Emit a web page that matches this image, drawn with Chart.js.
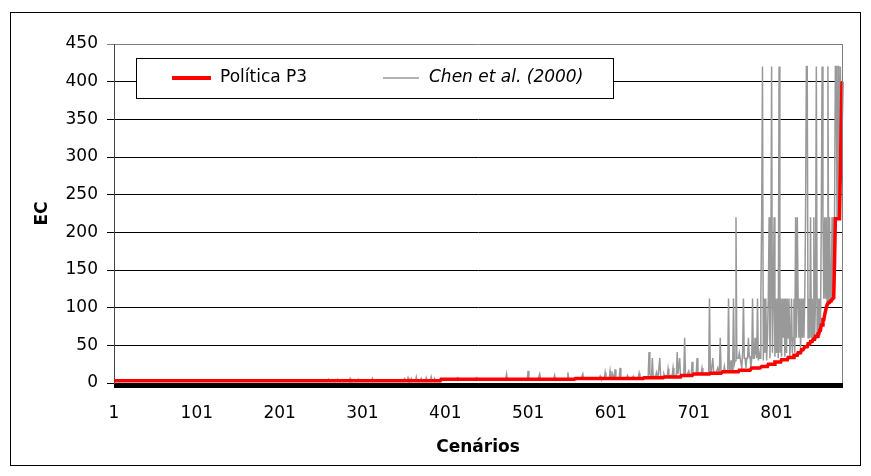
<!DOCTYPE html>
<html>
<head>
<meta charset="utf-8">
<script src="https://cdn.jsdelivr.net/npm/chart.js@4.4.1/dist/chart.umd.min.js"></script>
<style>
    html, body {
        margin: 0;
        padding: 0;
        background: #fff;
        overflow: hidden;
    }
    .chart-box {
        position: relative;
        width: 871px;
        height: 476px;
    }
</style>
</head>
<body>
<div class="chart-box">
    <canvas id="ecChart"></canvas>
</div>
<script>

const scenarioCount = 880;

const tickLabels = ['1', '101', '201', '301', '401', '501', '601', '701', '801'];

const yTicks = [0, 50, 100, 150, 200, 250, 300, 350, 400, 450];

// [value, repeat] or a single value
const p3Runs = [
    [3, 395], [5, 162], [6, 83], [7, 25], [8, 20], [10, 15], [12, 20], [13, 15],
    [15, 20], [17, 15], [20, 12], [22, 8], [25, 8], [28, 8], [31, 8], [34, 7],
    [37, 5], [40, 4], [44, 4], [48, 4], [52, 3], [55, 3], [58, 3], [62, 3],
    [65, 2], [70, 2], [77, 2], [84, 2], 90, 95, 100, [104, 2], [107, 2],
    [109, 2], [111, 2], 113, 160, [218, 6], 280, 340, 400
];

const chenRuns = [
    [3, 259], 5, [3, 10], 5, [3, 14], 6, [3, 9], 5, [3, 16], 6, [3, 37],
    3, 6, [3, 3], 7, [3, 3], 6, [3, 5], 8, [3, 5], 6, [3, 5], 7, [3, 5], 8, [3, 3], 6, [3, 7],
    [5, 20], 7, [5, 22], 7, [5, 35], 12, [5, 25], 16, [5, 13], 12, [5, 17], 10, [5, 15], 14, [5, 8],
    [6, 9], 12, [6, 20], 9, [6, 5], 14, [6, 5], 16, [7, 2], 12, [7, 2], 18, [7, 5], 20, [7, 8],
    10, [7, 6], 9, [7, 6], 13, [7, 5],
    [8, 6], 41, 12, [9, 2], 33, [9, 4], 14, [9, 3], 33, [9, 4], 12, [9, 4], 19, [10, 5], 20,
    [10, 4], 41, [12, 2], 33, [10, 5], 60, [11, 4], 16, [11, 3], 28, [12, 5], 33, [13, 5], 20,
    [13, 8], 112,
    [14, 3], 33, [14, 5], 20, [14, 2], 60, [15, 4], 22, [15, 4], 112, [18, 2], 30, [16, 2], 112,
    25, 30, 220, [33, 3], 40, [33, 2], 20, 40, 112, [33, 2], 20, [33, 2], 60, [35, 2], 20, 33,
    112, [33, 2], 60, 40, 33, 112, 30, 40,
    33, 112, 220, 420, 30, 112, 40, 112, 30, 60,
    112, 220, 33, 112, 420, 40, 112, 220, 35, 112,
    40, 112, 33, 420, 40, 112, 35, 112, 60, 112,
    35, 112, 40, 112, 60, 112, 35, 60, 112, 40,
    60, 112, 40, 220, 60, 220, 112, 60, 112, 45,
    112, 60, 112, 60, 112, 220, 420, 420, 60, 112,
    60, 220, 60, 112, 60, 220, 60, 112, 420, 60,
    112, 65, 112, 70, 220, 420, 220, 112, 220, 112,
    220, 104, 420, 107, 220, 109, 112, 220, 112, 113,
    220, 420, 420, 220, 420, 420, 220, 420, 340, 400
];

function expandRuns(runs) {
    const out = [];
    runs.forEach(r => {
        if (Array.isArray(r)) {
            for (let k = 0; k < r[1]; k++) {
                out.push(r[0]);
            }
        } else {
            out.push(r);
        }
    });
    return out;
}

const scenarios = [];
for (let i = 1; i <= scenarioCount; i++) {
    scenarios.push(String(i));
}

const p3Values = expandRuns(p3Runs);
const chenValues = expandRuns(chenRuns);

const fontFamily = '"DejaVu Sans", "Liberation Sans", Arial, sans-serif';

const framePlugin = {
    id: 'frame',
    afterDraw(chart) {
        const {ctx, chartArea} = chart;
        ctx.save();

        ctx.lineWidth = 1;
        ctx.strokeStyle = '#808080';
        const rx = Math.round(chartArea.right) + 0.5;
        ctx.beginPath();
        ctx.moveTo(rx, chartArea.top);
        ctx.lineTo(rx, chartArea.bottom);
        ctx.stroke();

        ctx.strokeStyle = '#000';
        ctx.strokeRect(10.5, 12.5, 850, 453);

        // legend box
        const sets = chart.data.datasets;
        ctx.fillStyle = '#fff';
        ctx.fillRect(136.5, 58.5, 477, 40);
        ctx.strokeStyle = '#000';
        ctx.strokeRect(136.5, 58.5, 477, 40);

        ctx.lineCap = 'butt';
        ctx.strokeStyle = sets[0].borderColor;
        ctx.lineWidth = 4;
        ctx.beginPath();
        ctx.moveTo(172, 78);
        ctx.lineTo(211, 78);
        ctx.stroke();

        ctx.strokeStyle = sets[1].borderColor;
        ctx.lineWidth = 1.5;
        ctx.beginPath();
        ctx.moveTo(383, 78);
        ctx.lineTo(419, 78);
        ctx.stroke();

        ctx.fillStyle = '#000';
        ctx.textBaseline = 'middle';
        ctx.textAlign = 'left';
        ctx.font = '17px ' + fontFamily;
        ctx.fillText(sets[0].label, 220, 78);
        ctx.font = 'italic 17px ' + fontFamily;
        ctx.fillText(sets[1].label, 429, 78);

        ctx.restore();
    }
};

const ctxEl = document.getElementById('ecChart');

new Chart(ctxEl, {

    type: 'line',

    data: {

        labels: scenarios,

        datasets: [{
                label: 'Política P3',
                data: p3Values,
                borderColor: '#ff0000',
                borderWidth: 3.5,
                pointRadius: 0,
                tension: 0
            }, {
                label: 'Chen et al. (2000)',
                data: chenValues,
                borderColor: '#999999',
                borderWidth: 1.5,
                pointRadius: 0,
                tension: 0
            }]
    },

    options: {

        responsive: true,
        maintainAspectRatio: false,
        animation: false,
        events: [],

        layout: {
            padding: {
                left: 0,
                right: 29,
                top: 44,
                bottom: 0
            }
        },

        plugins: {
            legend: {display: false},
            tooltip: {enabled: false}
        },

        scales: {

            x: {
                type: 'category',
                afterFit: (scale) => {
                    scale.height = 93;
                },
                ticks: {
                    autoSkip: false,
                    maxRotation: 0,
                    minRotation: 0,
                    padding: 15,
                    color: '#000',
                    font: {family: fontFamily, size: 17},
                    callback: function (val) {
                        const l = this.getLabelForValue(val);
                        return tickLabels.includes(l) ? l : '';
                    }
                },
                grid: {
                    drawOnChartArea: false,
                    tickLength: 5,
                    color: '#000',
                    lineWidth: 1
                },
                border: {color: '#000'},
                title: {
                    display: true,
                    text: 'Cenários',
                    color: '#000',
                    font: {family: fontFamily, size: 17, weight: 'bold'},
                    padding: {top: 0, bottom: 18}
                }
            },

            y: {
                min: 0,
                max: 450,
                afterFit: (scale) => {
                    scale.width = 114;
                },
                afterBuildTicks: (scale) => {
                    scale.ticks = yTicks.map(v => ({value: v}));
                },
                ticks: {
                    padding: 9,
                    color: '#000',
                    font: {family: fontFamily, size: 17}
                },
                grid: {
                    tickLength: 7,
                    lineWidth: 1,
                    color: (c) => c.tick && c.tick.value === 450 ? '#808080' : '#000'
                },
                border: {color: '#444'},
                title: {
                    display: true,
                    text: 'EC',
                    color: '#000',
                    font: {family: fontFamily, size: 17, weight: 'bold'},
                    padding: {top: 32, bottom: 0}
                }
            }
        }
    },

    plugins: [framePlugin]
});

</script>
</body>
</html>
